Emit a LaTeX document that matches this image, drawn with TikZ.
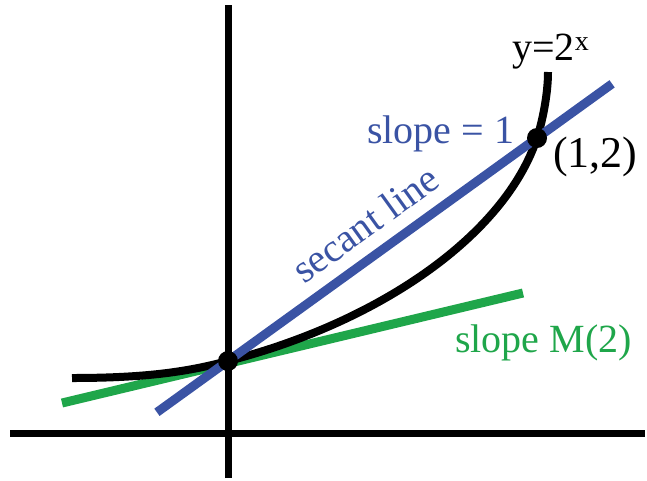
\documentclass[tikz,border=0pt]{standalone}
\usepackage{fontspec}
\setmainfont{Liberation Serif}
\usepackage{tikz}
\usetikzlibrary{positioning, calc}
\definecolor{secblue}{RGB}{58,83,164}
\definecolor{tangreen}{RGB}{31,166,74}
\tikzstyle{axis}=[line width=7pt, black]
\tikzstyle{curve}=[line width=8pt, black]
\tikzstyle{dot}=[circle, fill=black, inner sep=0pt, minimum size=20pt]
\tikzstyle{every node}=[font=\fontsize{40}{48}\selectfont, inner sep=0pt]

\begin{document}
\begin{tikzpicture}[x=1pt,y=-1pt]
            \useasboundingbox (0,0) rectangle (647,480);
            \coordinate (xl) at (10,433);
            \coordinate (xr) at (645,433);
            \coordinate (yb) at (228,478);
            \coordinate (yt) at (228,5);
            \draw[axis] (xl) -- (xr);
            \draw[axis] (yb) -- (yt);
            \coordinate (p0) at (228,361);
            \coordinate (p1) at (537,138);
            \coordinate (g0) at (62,403);
            \coordinate (g1) at (523,293);
            \coordinate (c0) at (72,378);
            \coordinate (c1) at (548,72);
            \draw[line width=9pt, tangreen] (g0) -- (g1);
            \draw[curve] (c0) .. controls (150,378) and (190,371) .. (p0)
                .. controls (380,322) and (505,235) .. (p1)
                .. controls (542,123) and (548,95) .. (c1);
            \draw[line width=9pt, secblue] ($(p0)!-0.23!(p1)$) -- ($(p0)!1.243!(p1)$);
            \node[dot] (d0) at (p0) {};
            \node[dot] (d1) at (p1) {};
            \node[anchor=base west] (fx) at (512,60) {y=2\textsuperscript{x}};
            \node[anchor=base west, font=\fontsize{44}{52}\selectfont] (pt) at (553,167) {(1,2)};
            \node[anchor=base west, secblue] (s1) at (367,143) {slope = 1};
            \node[anchor=base, secblue, rotate=35.8] (sec) at (373,235) {secant line};
            \node[anchor=base west, tangreen] (sm) at (455,352) {slope M(2)};
        \end{tikzpicture}
\end{document}
